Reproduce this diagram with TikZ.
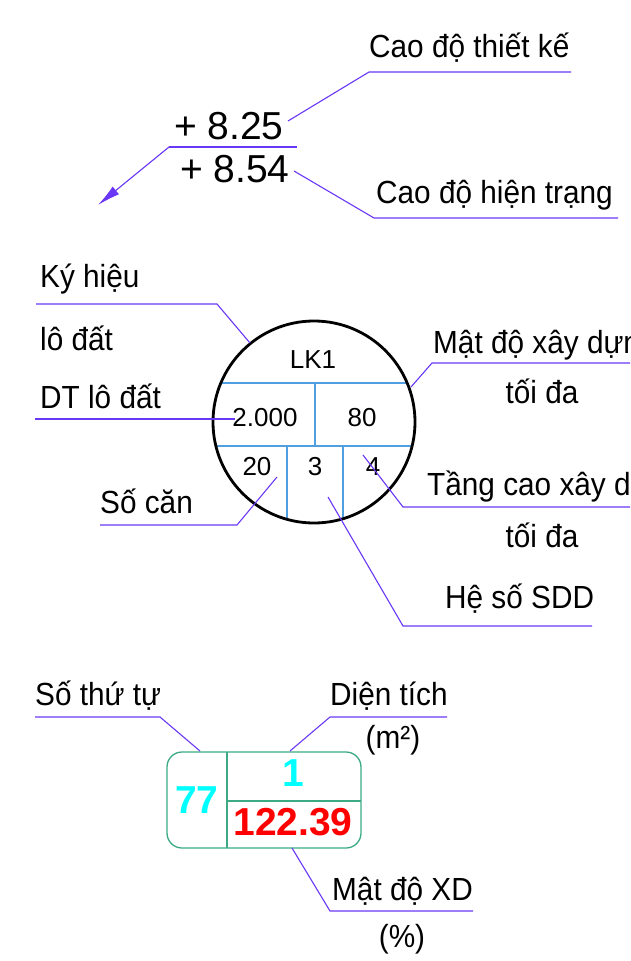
\documentclass[tikz,border=0pt]{standalone}
\usepackage{fontspec}
\setmainfont{Liberation Sans}
\newfontfamily\narrowsans{Liberation Sans}[FakeStretch=0.93]
\usetikzlibrary{arrows.meta}
\definecolor{leadcol}{RGB}{105,55,245}
\definecolor{gridcol}{RGB}{80,160,225}
\definecolor{boxcol}{RGB}{60,170,130}
\definecolor{cyancol}{RGB}{0,255,255}
\definecolor{redcol}{RGB}{255,0,0}

\begin{document}
\begin{tikzpicture}[x=1pt,y=-1pt,
  lead/.style={draw=leadcol,line width=1.1pt},
  lbl/.style={font=\narrowsans\fontsize{32}{32}\selectfont,anchor=base west,inner sep=0pt},
  elev/.style={font=\fontsize{39}{39}\selectfont,anchor=base west,inner sep=0pt},
  cell/.style={font=\fontsize{26}{26}\selectfont,inner sep=0pt},
  big/.style={font=\bfseries\fontsize{39}{39}\selectfont,inner sep=0pt}]
\useasboundingbox (0,0) rectangle (630,961);
\clip (0,0) rectangle (630,961);

\node[elev] (tk) at (174,139) {+ 8.25};
\node[elev] (ht) at (180,182) {+ 8.54};
\coordinate (tkl) at (169,147); \coordinate (tkr) at (297,147);
\coordinate (tip) at (98,205);
\draw[lead] (tkl)--(tkr);
\draw[lead,fill=leadcol,-{Latex[length=23pt,width=10pt]}] (tkl)--(tip);
\node[lbl] (tkname) at (369,57) {Cao độ thiết kế};
\node[lbl] (htname) at (376,203) {Cao độ hiện trạng};
\coordinate (tk1) at (288,121); \coordinate (tk2) at (369,72); \coordinate (tk3) at (571,72);
\coordinate (ht1) at (294,171); \coordinate (ht2) at (374,218); \coordinate (ht3) at (618,218);
\draw[lead] (tk1)--(tk2)--(tk3);
\draw[lead] (ht1)--(ht2)--(ht3);

\begin{scope}
\clip (314,422) circle (101);
\draw[gridcol,line width=1.2pt] (200,383)--(430,383) (200,446)--(430,446)
  (315,383)--(315,446) (287,446)--(287,530) (343,446)--(343,530);
\end{scope}
\node[circle,draw,line width=2.8pt,minimum size=202pt,inner sep=0pt] (lot) at (314,422) {};
\node[cell] (lk) at (313,360) {LK1};
\node[cell] (area) at (265,418) {2.000};
\node[cell] (dens) at (362,418) {80};
\node[cell] (units) at (257,467) {20};
\node[cell] (far) at (315,467) {3};
\node[cell] (floors) at (373,467) {4};

\node[lbl] (kyhieu) at (40,287) {Ký hiệu};
\node[lbl] (lodat) at (40,350) {lô đất};
\node[lbl] (dtlo) at (40,408) {DT lô đất};
\node[lbl] (socan) at (100,513) {Số căn};
\node[lbl] (matdo) at (433,353) {Mật độ xây dựng};
\node[lbl,anchor=base] (toida1) at (542,403) {tối đa};
\node[lbl] (tang) at (427,495) {Tầng cao xây dựng};
\node[lbl,anchor=base] (toida2) at (542,547) {tối đa};
\node[lbl] (heso) at (445,608) {Hệ số SDD};
\coordinate (kh1) at (250,343); \coordinate (kh2) at (217,304); \coordinate (kh3) at (36,304);
\coordinate (dt1) at (235,419); \coordinate (dt2) at (35,419);
\coordinate (sc1) at (277,477); \coordinate (sc2) at (237,525); \coordinate (sc3) at (100,525);
\coordinate (md1) at (411,387); \coordinate (md2) at (432,363); \coordinate (md3) at (630,363);
\coordinate (tc1) at (363,455); \coordinate (tc2) at (403,507); \coordinate (tc3) at (630,507);
\coordinate (hs1) at (328,497); \coordinate (hs2) at (403,626); \coordinate (hs3) at (592,626);
\draw[lead] (kh1)--(kh2)--(kh3);
\draw[lead] (dt1)--(dt2);
\draw[lead] (sc1)--(sc2)--(sc3);
\draw[lead] (md1)--(md2)--(md3);
\draw[lead] (tc1)--(tc2)--(tc3);
\draw[lead] (hs1)--(hs2)--(hs3);

\draw[boxcol,line width=1.3pt,rounded corners=15pt] (167,752) rectangle (361,848);
\draw[boxcol,line width=1.3pt] (227,752)--(227,848) (227,801)--(361,801);
\node[big,text=cyancol] (stt) at (197,800) {77};
\node[big,text=cyancol] (lotno) at (293,773) {1};
\node[big,text=redcol] (dtich) at (293,822) {122.39};
\node[lbl] (sothutu) at (35,705) {Số thứ tự};
\node[lbl] (dientich) at (330,705) {Diện tích};
\node[lbl,anchor=base] (m2) at (393,748) {(m²)};
\node[lbl] (mdxd) at (332,900) {Mật độ XD};
\node[lbl,anchor=base] (pct) at (402,947) {(\%)};
\coordinate (st1) at (200,751); \coordinate (st2) at (160,717); \coordinate (st3) at (35,717);
\coordinate (di1) at (290,751); \coordinate (di2) at (330,717); \coordinate (di3) at (447,717);
\coordinate (mx1) at (292,848); \coordinate (mx2) at (330,911); \coordinate (mx3) at (473,911);
\draw[lead] (st1)--(st2)--(st3);
\draw[lead] (di1)--(di2)--(di3);
\draw[lead] (mx1)--(mx2)--(mx3);
\end{tikzpicture}
\end{document}
